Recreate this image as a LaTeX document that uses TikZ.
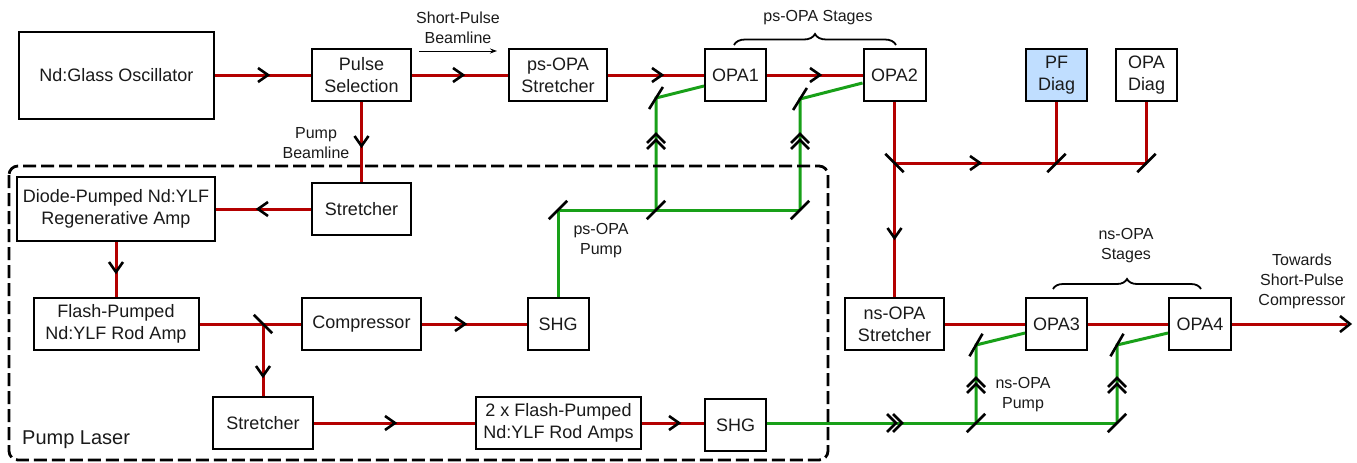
\documentclass[tikz,border=0pt]{standalone}
\usepackage{fontspec}
\setmainfont{Liberation Sans}
\usetikzlibrary{decorations.pathreplacing,calc,arrows.meta}
\definecolor{beamred}{HTML}{B40000}
\definecolor{beamgreen}{HTML}{18A018}
\definecolor{diagblue}{HTML}{C0DEFF}
\definecolor{txt}{HTML}{1A1A1A}
\tikzset{
  box/.style={draw=black, line width=2pt, inner sep=0pt, align=center, fill=white,
    text=txt, font=\fontsize{18}{22}\selectfont},
  lbl/.style={align=center, inner sep=0pt, text=txt, font=\fontsize{16}{20}\selectfont},
  redbeam/.style={draw=beamred, line width=3pt},
  greenbeam/.style={draw=beamgreen, line width=3pt},
  bracestyle/.style={draw=black, line width=1.8pt, decorate, decoration={brace, amplitude=11pt}},
  chev/.pic={\draw[black, line width=2.6pt, line join=miter] (-5,-7) -- (5,0) -- (-5,7);},
  dchev/.pic={\draw[black, line width=2.6pt, line join=miter] (-8,-9) -- (1,0) -- (-8,9) (-2,-9) -- (7,0) -- (-2,9);},
  tipchev/.pic={\draw[black, line width=2.6pt, line join=miter] (-10,-8) -- (0,0) -- (-10,8);},
  mirror/.pic={\draw[black, line width=2.6pt] (-13,0) -- (13,0);}
}
\begin{document}
\begin{tikzpicture}[x=1pt, y=-1pt]
\path[use as bounding box] (0,0) rectangle (1357,463);

% boxes
\node[box, minimum width=195pt, minimum height=87pt] (osc) at (116.5,75) {Nd:Glass Oscillator};
\node[box, minimum width=99pt, minimum height=52pt] (psel) at (361.5,75) {Pulse\\Selection};
\node[box, minimum width=98pt, minimum height=52pt] (psstr) at (558,75) {ps-OPA\\Stretcher};
\node[box, minimum width=61pt, minimum height=52pt] (opa1) at (735.5,75) {OPA1};
\node[box, minimum width=62pt, minimum height=52pt] (opa2) at (894.5,75) {OPA2};
\node[box, minimum width=61pt, minimum height=52pt, fill=diagblue] (pfd) at (1056.5,75) {PF\\Diag};
\node[box, minimum width=61pt, minimum height=52pt] (opad) at (1146.5,75) {OPA\\Diag};
\node[box, minimum width=99pt, minimum height=52pt] (str1) at (361.5,209) {Stretcher};
\node[box, minimum width=198pt, minimum height=64pt] (diode) at (116,209) {Diode-Pumped Nd:YLF\\Regenerative Amp};
\node[box, minimum width=165pt, minimum height=52pt] (flash) at (116,324) {Flash-Pumped\\Nd:YLF Rod Amp};
\node[box, minimum width=119pt, minimum height=52pt] (comp) at (361.5,324) {Compressor};
\node[box, minimum width=61pt, minimum height=52pt] (shg1) at (558,324) {SHG};
\node[box, minimum width=100pt, minimum height=52pt] (str2) at (263,423) {Stretcher};
\node[box, minimum width=165pt, minimum height=52pt] (amps) at (558.5,423) {2 x Flash-Pumped\\Nd:YLF Rod Amps};
\node[box, minimum width=61pt, minimum height=52pt] (shg2) at (735.5,425) {SHG};
\node[box, minimum width=99pt, minimum height=52pt] (nsstr) at (894.5,324) {ns-OPA\\Stretcher};
\node[box, minimum width=61pt, minimum height=52pt] (opa3) at (1056.5,324) {OPA3};
\node[box, minimum width=62pt, minimum height=52pt] (opa4) at (1200,324) {OPA4};

% labels
\node[lbl] (lsp) at (458,28) {Short-Pulse\\Beamline};
\node[lbl] (lpb) at (316,143) {Pump\\Beamline};
\node[lbl] (lpss) at (818,18) {ps-OPA Stages};
\node[lbl] (lpsp) at (601,241) {ps-OPA\\Pump};
\node[lbl] (lnss) at (1126,246) {ns-OPA\\Stages};
\node[lbl] (lnsp) at (1023,395) {ns-OPA\\Pump};
\node[lbl] (ltow) at (1302,281) {Towards\\Short-Pulse\\Compressor};
\node[lbl, anchor=west, font=\fontsize{20}{24}\selectfont] (lpl) at (22,440) {Pump Laser};

% mirror / turning points
\coordinate (m1) at (894.5,163);
\coordinate (m2) at (1056.5,163);
\coordinate (m3) at (1146.5,163);
\coordinate (m4) at (263,324);
\coordinate (g1) at (558,210);
\coordinate (g2) at (656,210);
\coordinate (g3) at (800,210);
\coordinate (g4) at (656,98);
\coordinate (g5) at (800,99);
\coordinate (g6) at (976,423);
\coordinate (g7) at (1117,423);
\coordinate (g8) at (976,345);
\coordinate (g9) at (1117,345);
\coordinate (out) at (1347,324);
\coordinate (sa) at (419,51);
\coordinate (sb) at (497,51);
\coordinate (b1) at (734,45);
\coordinate (b2) at (896,45);
\coordinate (b3) at (1053,289);
\coordinate (b4) at (1201,289);

% red beams
\draw[redbeam] (osc.east) -- (psel.west);
\draw[redbeam] (psel.east) -- (psstr.west);
\draw[redbeam] (psstr.east) -- (opa1.west);
\draw[redbeam] (opa1.east) -- (opa2.west);
\draw[redbeam] (opa2.south) -- (m1) -- (nsstr.north);
\draw[redbeam] (m1) -- (m2) -- (m3);
\draw[redbeam] (pfd.south) -- (m2);
\draw[redbeam] (opad.south) -- (m3);
\draw[redbeam] (nsstr.east) -- (opa3.west);
\draw[redbeam] (opa3.east) -- (opa4.west);
\draw[redbeam] (opa4.east) -- (out);
\draw[redbeam] (psel.south) -- (str1.north);
\draw[redbeam] (str1.west) -- (diode.east);
\draw[redbeam] (diode.south) -- (flash.north);
\draw[redbeam] (flash.east) -- (m4) -- (comp.west);
\draw[redbeam] (comp.east) -- (shg1.west);
\draw[redbeam] (m4) -- (str2.north);
\draw[redbeam] (str2.east) -- (amps.west);
\draw[redbeam] (amps.east) -- (amps.east -| shg2.west);

% green beams
\draw[greenbeam] (shg1.north) -- (g1) -- (g3);
\draw[greenbeam] (g2) -- (g4) -- ([yshift=-11pt]opa1.west);
\draw[greenbeam] (g3) -- (g5) -- ([yshift=-8pt]opa2.west);
\draw[greenbeam] (shg2.east |- g6) -- (g7);
\draw[greenbeam] (g6) -- (g8) -- ([yshift=-9pt]opa3.west);
\draw[greenbeam] (g7) -- (g9) -- ([yshift=-9pt]opa4.west);

% pump laser enclosure
\draw[black, line width=2.8pt, dash pattern=on 13pt off 5pt, rounded corners=9pt] (9,166) rectangle (828,460);

% short-pulse beamline arrow
\draw[black, line width=0.9pt, -{Stealth[length=7pt,width=5pt]}] (sa) -- (sb);

% braces
\draw[bracestyle] (b1) -- (b2);
\draw[bracestyle, decoration={brace, amplitude=10pt}] (b3) -- (b4);

% mirrors
\pic[rotate=-45] at (m1) {mirror};
\pic[rotate=45] at (m2) {mirror};
\pic[rotate=45] at (m3) {mirror};
\pic[rotate=-45] at (m4) {mirror};
\pic[rotate=45] at (g1) {mirror};
\pic[rotate=45] at (g2) {mirror};
\pic[rotate=45] at (g3) {mirror};
\pic[rotate=58] at (g4) {mirror};
\pic[rotate=58] at (g5) {mirror};
\pic[rotate=45] at (g6) {mirror};
\pic[rotate=45] at (g7) {mirror};
\pic[rotate=60] at (g8) {mirror};
\pic[rotate=60] at (g9) {mirror};

% direction chevrons
\pic at (263,75) {chev};
\pic at (458,75) {chev};
\pic at (657,75) {chev};
\pic at (815,75) {chev};
\pic at (975,163) {chev};
\pic[rotate=-90] at (361.5,141) {chev};
\pic[rotate=-90] at (894.5,233) {chev};
\pic[rotate=180] at (263,209) {chev};
\pic[rotate=-90] at (116,267) {chev};
\pic[rotate=-90] at (263,371) {chev};
\pic at (460,324) {chev};
\pic at (390,423) {chev};
\pic at (674,423) {chev};
\pic[rotate=90] at (656,141) {dchev};
\pic[rotate=90] at (800,141) {dchev};
\pic[rotate=90] at (976,385) {dchev};
\pic[rotate=90] at (1117,385) {dchev};
\pic at (895,423) {dchev};
\pic at (1350,324) {tipchev};
\end{tikzpicture}
\end{document}
